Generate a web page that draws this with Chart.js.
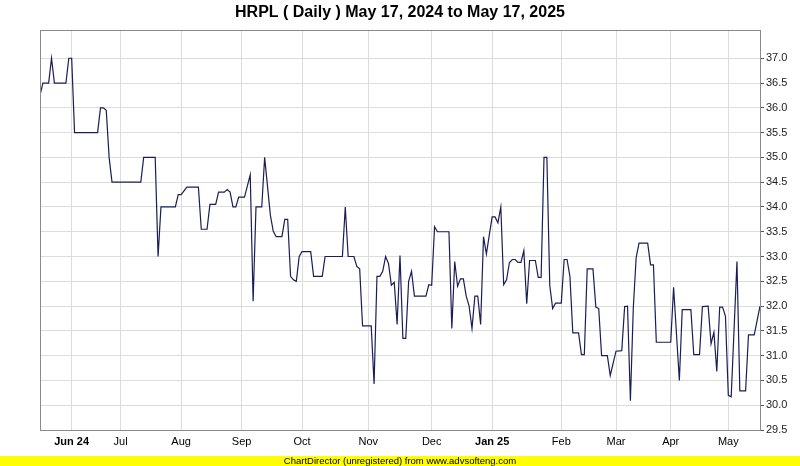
<!DOCTYPE html>
<html>
<head>
<meta charset="utf-8">
<script src="https://cdn.jsdelivr.net/npm/chart.js@4.4.1/dist/chart.umd.min.js"></script>
<style>
  html, body { margin: 0; padding: 0; background: #fff; }
  #wrap { width: 800px; height: 466px; position: relative; }
</style>
</head>
<body>
<div id="wrap"><canvas id="chart" width="800" height="466"></canvas></div>
<script>
/* HRPL daily close, x = trading-day index from May 17, 2024 */
const tradingDay = [
  0, 1, 3, 4, 5, 9, 10, 11, 12, 20, 21, 22, 23, 24, 25, 35, 36, 40, 41, 42,
  47, 48, 49, 51, 55, 56, 58, 59, 61, 62, 64, 65, 66, 67, 68, 69, 71, 73, 74, 75,
  77, 78, 80, 81, 82, 84, 85, 86, 87, 88, 89, 90, 91, 94, 95, 98, 99, 105, 106, 107,
  109, 110, 111, 112, 115, 116, 117, 118, 119, 120, 121, 122, 123, 124, 125, 126, 127, 128, 129, 130,
  134, 135, 136, 137, 138, 142, 143, 144, 145, 146, 147, 148, 149, 150, 151, 152, 153, 154, 155, 156,
  157, 158, 159, 160, 161, 162, 163, 164, 165, 166, 167, 168, 169, 170, 172, 173, 174, 175, 176, 177,
  178, 179, 181, 182, 183, 184, 185, 187, 188, 189, 190, 192, 193, 194, 195, 197, 198, 200, 202, 203,
  204, 205, 206, 207, 208, 211, 212, 213, 214, 219, 220, 222, 223, 226, 227, 229, 230, 232, 233, 234,
  235, 236, 237, 238, 239, 240, 242, 243, 245, 246, 248, 250
];
const closePrice = [
  36.25, 36.5, 36.5, 37.0, 36.5, 36.5, 37.0, 37.0, 35.5, 35.5, 36.0, 36.0, 35.95, 35.0, 34.5, 34.5, 35.0, 35.0, 33.0, 34.0,
  34.0, 34.25, 34.25, 34.4, 34.4, 33.55, 33.55, 34.05, 34.05, 34.3, 34.3, 34.35, 34.3, 34.0, 34.0, 34.2, 34.2, 34.65, 32.1, 34.0,
  34.0, 35.0, 33.83, 33.51, 33.4, 33.4, 33.75, 33.75, 32.6, 32.53, 32.5, 33.0, 33.1, 33.1, 32.6, 32.6, 33.0, 33.0, 34.0, 33.0,
  33.0, 32.8, 32.75, 31.6, 31.6, 30.43, 32.6, 32.6, 32.7, 33.0, 32.86, 32.42, 32.48, 31.63, 33.02, 31.35, 31.35, 32.5, 32.7, 32.2,
  32.2, 32.43, 32.42, 33.6, 33.5, 33.5, 31.55, 32.9, 32.4, 32.55, 32.55, 32.2, 32.0, 31.55, 32.2, 32.2, 31.63, 33.4, 33.05, 33.43,
  33.8, 33.8, 33.68, 34.0, 32.43, 32.53, 32.88, 32.94, 32.94, 32.88, 32.88, 33.12, 32.05, 32.92, 32.92, 32.58, 32.58, 35.0, 35.0, 32.42,
  31.95, 32.06, 32.06, 32.94, 32.94, 32.6, 31.46, 31.46, 31.02, 31.02, 32.75, 32.75, 31.98, 31.95, 31.0, 31.0, 30.6, 31.09, 31.1, 31.99,
  32.0, 30.09, 31.95, 32.98, 33.27, 33.27, 32.83, 32.83, 31.27, 31.27, 32.38, 30.5, 31.93, 31.93, 31.02, 31.02, 31.99, 32.0, 31.24, 31.47,
  30.68, 31.98, 31.98, 31.8, 30.2, 30.17, 32.9, 30.29, 30.29, 31.42, 31.42, 32.0
];
const lastDay = 250;

// first trading day of each month
const monthDay = [11, 28, 49, 70, 91, 114, 136, 157, 181, 200, 219, 239];
const monthLabel = ["Jun 24", "Jul", "Aug", "Sep", "Oct", "Nov", "Dec", "Jan 25", "Feb", "Mar", "Apr", "May"];

const priceTicks = [29.5, 30.0, 30.5, 31.0, 31.5, 32.0, 32.5, 33.0, 33.5, 34.0, 34.5, 35.0, 35.5, 36.0, 36.5, 37.0];
const priceMin = 29.5;
const priceMax = 37.57;

const titleText = "HRPL ( Daily ) May 17, 2024 to May 17, 2025";
const footerText = "ChartDirector (unregistered) from www.advsofteng.com";

const points = tradingDay.map((d, i) => ({ x: d, y: closePrice[i] }));

// title, plot border and yellow footer strip
const decor = {
    id: "decor",
    beforeDraw(chart) {
        const c = chart.ctx;
        c.save();
        c.fillStyle = "#ffffff";
        c.fillRect(0, 0, chart.width, chart.height);
        c.restore();
    },
    afterDraw(chart) {
        const c = chart.ctx;
        const a = chart.chartArea;
        c.save();
        c.strokeStyle = "#8a8a8a";
        c.lineWidth = 1;
        c.strokeRect(Math.round(a.left) + 0.5, Math.round(a.top) + 0.5,
            Math.round(a.right - a.left), Math.round(a.bottom - a.top));

        c.fillStyle = "#000";
        c.font = "bold 16px 'Liberation Sans', Arial, sans-serif";
        c.textAlign = "center";
        c.textBaseline = "middle";
        c.fillText(titleText, 400, 13);

        c.fillStyle = "#ffff00";
        c.fillRect(0, 456, chart.width, 10);
        c.fillStyle = "#000";
        c.font = "9.5px 'Liberation Sans', Arial, sans-serif";
        c.fillText(footerText, 400, 461.5);
        c.restore();
    }
};

new Chart(document.getElementById("chart"), {
    type: "line",
    data: {
        datasets: [{
            data: points,
            borderColor: "#1c1c58",
            borderWidth: 1.2,
            pointRadius: 0,
            tension: 0,
            fill: false
        }]
    },
    options: {
        responsive: false,
        animation: false,
        layout: { padding: { left: 40, top: 30, right: 0, bottom: 0 } },
        plugins: { legend: { display: false }, tooltip: { enabled: false }, title: { display: false } },
        scales: {
            x: {
                type: "linear",
                min: 0,
                max: lastDay,
                afterBuildTicks: axis => { axis.ticks = monthDay.map(v => ({ value: v })); },
                afterFit: axis => { axis.height = 36; },
                grid: { color: "#dcdcdc", drawTicks: false },
                border: { display: false },
                ticks: {
                    autoSkip: false,
                    maxRotation: 0,
                    padding: 5,
                    color: "#000",
                    font: ctx => ({
                        family: "'Liberation Sans', Arial, sans-serif",
                        size: 11,
                        weight: (ctx.tick && ctx.tick.label && ctx.tick.label.indexOf(" ") > 0) ? "bold" : "normal"
                    }),
                    callback: v => monthLabel[monthDay.indexOf(v)]
                }
            },
            y: {
                position: "right",
                min: priceMin,
                max: priceMax,
                afterBuildTicks: axis => { axis.ticks = priceTicks.map(v => ({ value: v })); },
                afterFit: axis => { axis.width = 40; },
                grid: { color: "#dcdcdc", tickColor: "#555", tickLength: 4 },
                border: { display: false },
                ticks: {
                    padding: 2,
                    color: "#222",
                    font: { family: "'Liberation Sans', Arial, sans-serif", size: 11 },
                    callback: v => v.toFixed(1)
                }
            }
        }
    },
    plugins: [decor]
});
</script>
</body>
</html>
